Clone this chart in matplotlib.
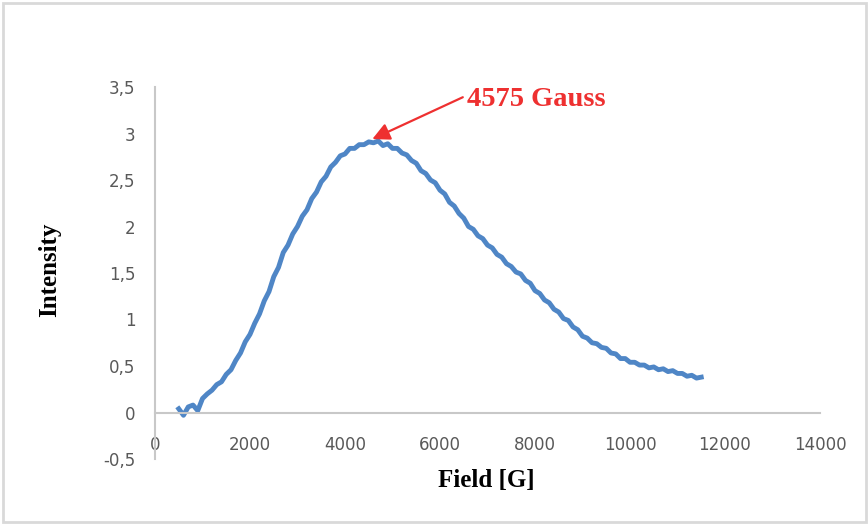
import matplotlib
matplotlib.use('Agg')
import matplotlib.pyplot as plt
from matplotlib.patches import Rectangle

# EPR spectrum (field in Gauss)
field = [500, 600, 700, 800, 900, 1000, 1100, 1200, 1300, 1400,
         1500, 1600, 1700, 1800, 1900, 2000, 2100, 2200, 2300, 2400,
         2500, 2600, 2700, 2800, 2900, 3000, 3100, 3200, 3300, 3400,
         3500, 3600, 3700, 3800, 3900, 4000, 4100, 4200, 4300, 4400,
         4500, 4600, 4700, 4800, 4900, 5000, 5100, 5200, 5300, 5400,
         5500, 5600, 5700, 5800, 5900, 6000, 6100, 6200, 6300, 6400,
         6500, 6600, 6700, 6800, 6900, 7000, 7100, 7200, 7300, 7400,
         7500, 7600, 7700, 7800, 7900, 8000, 8100, 8200, 8300, 8400,
         8500, 8600, 8700, 8800, 8900, 9000, 9100, 9200, 9300, 9400,
         9500, 9600, 9700, 9800, 9900, 10000, 10100, 10200, 10300, 10400,
         10500, 10600, 10700, 10800, 10900, 11000, 11100, 11200, 11300, 11400,
         11500]
intensity = [0.04, -0.03, 0.06, 0.08, 0.02, 0.15, 0.20, 0.24, 0.30, 0.33,
             0.41, 0.46, 0.56, 0.64, 0.76, 0.84, 0.96, 1.06, 1.20, 1.30,
             1.46, 1.56, 1.72, 1.80, 1.92, 2.00, 2.11, 2.18, 2.30, 2.37,
             2.48, 2.54, 2.64, 2.69, 2.76, 2.78, 2.84, 2.84, 2.88, 2.88,
             2.91, 2.90, 2.92, 2.87, 2.89, 2.84, 2.84, 2.79, 2.77, 2.71,
             2.68, 2.60, 2.57, 2.50, 2.47, 2.39, 2.35, 2.26, 2.22, 2.14,
             2.09, 2.00, 1.97, 1.90, 1.87, 1.80, 1.77, 1.70, 1.67, 1.60,
             1.57, 1.51, 1.49, 1.42, 1.39, 1.31, 1.28, 1.21, 1.18, 1.11,
             1.08, 1.01, 0.99, 0.92, 0.89, 0.82, 0.80, 0.75, 0.74, 0.70,
             0.69, 0.64, 0.63, 0.58, 0.58, 0.54, 0.54, 0.51, 0.51, 0.48,
             0.49, 0.46, 0.47, 0.44, 0.45, 0.42, 0.42, 0.39, 0.40, 0.37,
             0.38]

x_ticks = [0, 2000, 4000, 6000, 8000, 10000, 12000, 14000]
y_ticks = [-0.5, 0, 0.5, 1, 1.5, 2, 2.5, 3, 3.5]
y_tick_labels = ['-0,5', '0', '0,5', '1', '1,5', '2', '2,5', '3', '3,5']

peak_field = 4575
peak_value = 2.94
peak_text = '4575 Gauss'

fig = plt.figure(figsize=(8.68, 5.24), dpi=100)
ax = fig.add_axes([155 / 868, (524 - 459) / 524, (820 - 155) / 868, (459 - 87) / 524])

ax.plot(field, intensity, color='#4f86c6', lw=3.5, solid_joinstyle='round')

ax.set_xlim(0, 14000)
ax.set_ylim(-0.5, 3.5)
ax.set_xticks(x_ticks)
ax.set_xticklabels([str(t) for t in x_ticks])
ax.set_yticks(y_ticks)
ax.set_yticklabels(y_tick_labels)

# Excel-like axes: y axis at left, x axis through zero
ax.spines['top'].set_visible(False)
ax.spines['right'].set_visible(False)
ax.spines['bottom'].set_position(('data', 0))
ax.spines['bottom'].set_color('#c8c8c8')
ax.spines['left'].set_color('#c8c8c8')
ax.spines['bottom'].set_linewidth(1.5)
ax.spines['left'].set_linewidth(1.5)
ax.tick_params(axis='x', length=0, pad=17, labelsize=12, labelcolor='#595959')
ax.tick_params(axis='y', length=0, pad=14, labelsize=12, labelcolor='#595959')

serif = 'Liberation Serif'
fig.text(486 / 868, 1 - 481 / 524, 'Field [G]', ha='center', va='center',
         fontsize=18, fontweight='bold', family=serif)
fig.text(50 / 868, 1 - 270 / 524, 'Intensity', ha='center', va='center',
         rotation=90, fontsize=18, fontweight='bold', family=serif)

# peak annotation
ax.annotate('', xy=(peak_field, peak_value), xytext=(6480, 3.39),
            arrowprops=dict(arrowstyle='-|>', color='#ee3030', lw=1.6,
                            mutation_scale=26, shrinkA=0, shrinkB=0))
ax.text(6570, 3.37, peak_text, ha='left', va='center', color='#ee3030',
        fontsize=20.5, fontweight='bold', family=serif)

# chart area border
fig.patches.append(Rectangle((3 / 868, 2 / 524), 863 / 868, 519 / 524,
                             transform=fig.transFigure, fill=False,
                             edgecolor='#d9d9d9', lw=2))

fig.savefig('out.png', dpi=100)
